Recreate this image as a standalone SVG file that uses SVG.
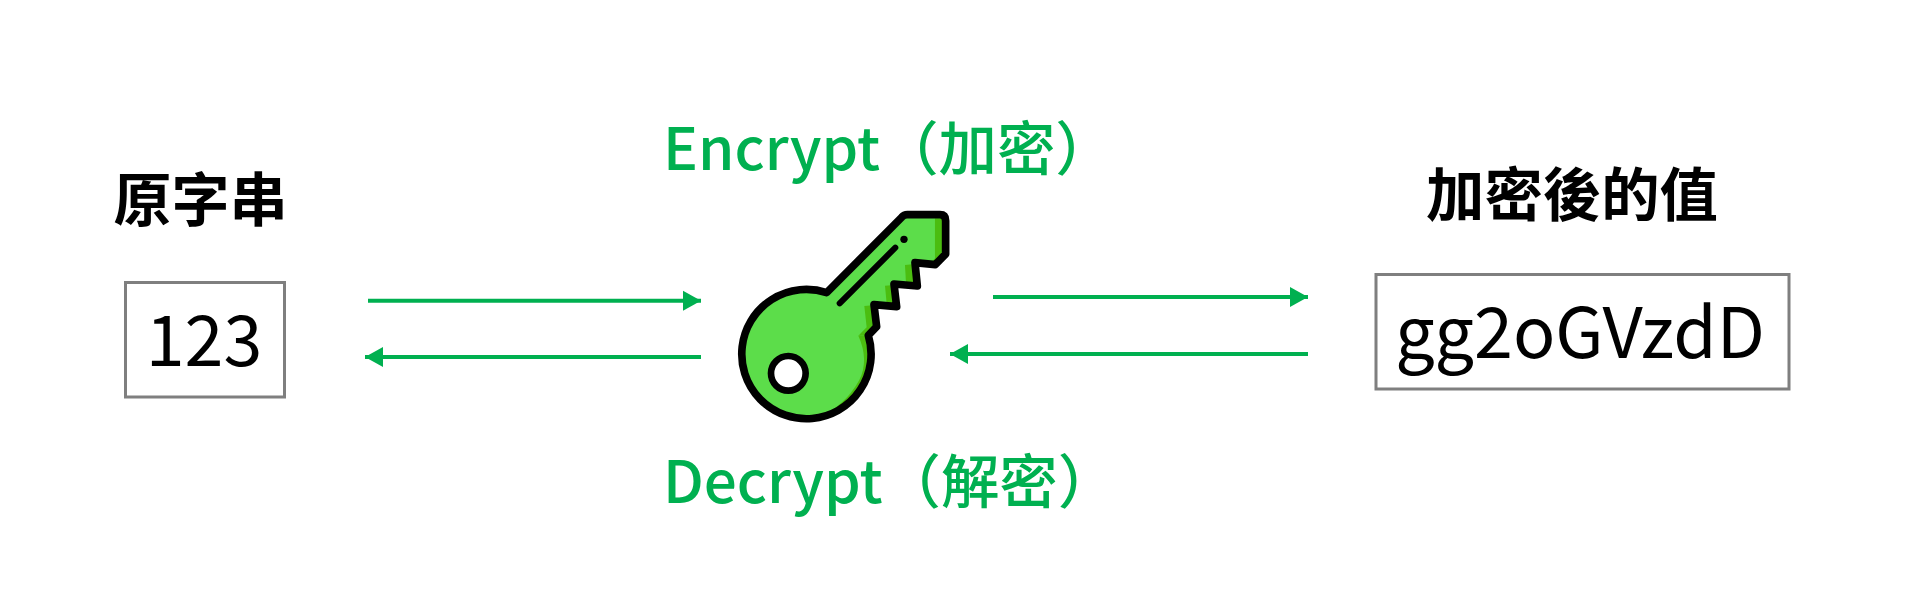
<svg xmlns="http://www.w3.org/2000/svg" width="1910" height="616" viewBox="0 0 1910 616">
<style>
text{font-family:"Noto Sans CJK TC","Noto Sans",sans-serif}
.title{font-size:58px;font-weight:700;fill:#000}
.green{font-size:58.4px;font-weight:500;fill:#00b050}
.val{font-size:70px;font-weight:400;fill:#000}
.box{fill:#fff;stroke:#7f7f7f;stroke-width:3}
.conn{stroke:#00b050;stroke-width:4;fill:none;marker-end:url(#arrow)}
.outline{fill:none;stroke:#000;stroke-width:23;stroke-linejoin:round}
</style>
<defs>
<marker id="arrow" markerUnits="userSpaceOnUse" markerWidth="20" markerHeight="22" refX="18" refY="11" orient="auto"><path d="M0,1 L18,11 L0,21 z" fill="#00b050"/></marker>
</defs>
<rect width="1910" height="616" fill="#fff"/>
<g id="connectors">
<line class="conn" x1="368" y1="300.7" x2="701" y2="300.7"/>
<line class="conn" x1="701" y1="357" x2="365" y2="357"/>
<line class="conn" x1="993" y1="297" x2="1308" y2="297"/>
<line class="conn" x1="1308" y1="354" x2="950" y2="354"/>
</g>
<g id="node-source">
<text class="title" x="200.5" y="220.5" text-anchor="middle">原字串</text>
<rect class="box" x="125.5" y="282.5" width="159" height="114.5"/>
<text class="val" x="204" y="366" text-anchor="middle">123</text>
</g>
<g id="node-key" transform="translate(700,190) scale(0.3333)">
<path d="M380,308 L605,82 Q612,74 622,74 L720,74 Q737,74 737,92 L737,192 L706,224 L645,218 L652,288 L582,282 L590,350 L522,344 L530,410 L505,436 A194,194 0 1 1 380,308 z" fill="#5cdd4a"/>
<g fill="#4bbd10">
<path d="M705,85 L735,85 L735,195 L712,222 L695,216 L705,205 z"/>
<path d="M615,225 L645,222 L652,285 L618,278 z"/>
<path d="M555,287 L582,285 L590,348 L560,340 z"/>
<path d="M493,348 L525,345 L530,408 L505,436 L475,437 L500,412 z"/>
<path d="M475,437 Q508,510 478,570 Q435,650 340,692 A194,194 0 0 0 505,436 z"/>
</g>
<path class="outline" d="M380,308 L605,82 Q612,74 622,74 L720,74 Q737,74 737,92 L737,192 L706,224 L645,218 L652,288 L582,282 L590,350 L522,344 L530,410 L505,436 A194,194 0 1 1 380,308 z"/>
<circle cx="265" cy="550" r="52" fill="#fff" stroke="#000" stroke-width="20"/>
<line x1="419" y1="340" x2="586" y2="173" stroke="#000" stroke-width="18" stroke-linecap="round"/>
<circle cx="612" cy="148" r="11" fill="#000"/>
</g>
<g id="label-encrypt"><text class="green" x="663" y="170">Encrypt（加密）</text></g>
<g id="label-decrypt"><text class="green" x="663" y="502.7">Decrypt（解密）</text></g>
<g id="node-result">
<text class="title" x="1572" y="216" text-anchor="middle" textLength="292" lengthAdjust="spacingAndGlyphs">加密後的值</text>
<rect class="box" x="1376" y="274.5" width="413" height="114.5"/>
<text class="val" x="1580" y="358" text-anchor="middle">gg2oGVzdD</text>
</g>
</svg>
